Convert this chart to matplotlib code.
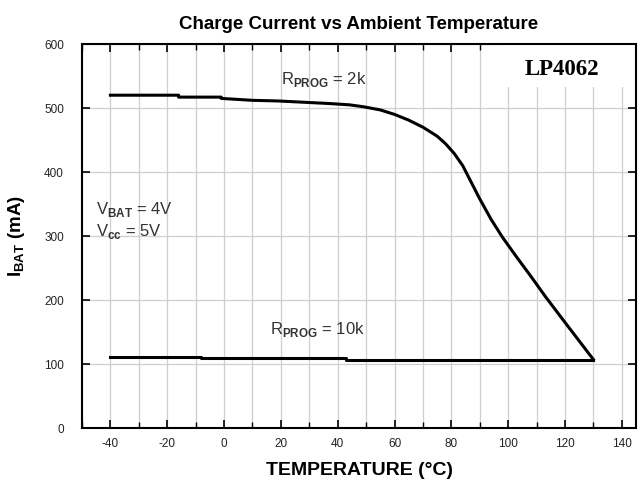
import matplotlib
matplotlib.use("Agg")
import matplotlib.pyplot as plt
from matplotlib.patches import Rectangle
from matplotlib.ticker import MultipleLocator

plt.rcParams['font.family'] = ['Liberation Sans', 'DejaVu Sans']
plt.rcParams['mathtext.fontset'] = 'custom'
plt.rcParams['mathtext.rm'] = 'Liberation Sans'
plt.rcParams['mathtext.bf'] = 'Liberation Sans:bold'
plt.rcParams['axes.unicode_minus'] = False

# Data
temp_2k = [-40, -16, -16, -1, -1, 10, 19, 28, 37, 44, 49, 55, 60, 65, 70, 75, 78, 81,
           84, 87, 90, 94, 98, 103, 108, 113, 120, 130]
ibat_2k = [520, 520, 517, 517, 515, 512, 511, 509, 507, 505, 502, 497, 490, 481, 470,
           456, 444, 429, 410, 384, 358, 326, 298, 267, 237, 206, 165, 107]
temp_10k = [-40, -8, -8, 43, 43, 130]
ibat_10k = [111, 111, 110, 110, 107, 107]
x_ticks = [-40, -20, 0, 20, 40, 60, 80, 100, 120, 140]
y_ticks = [0, 100, 200, 300, 400, 500, 600]

fig = plt.figure(figsize=(6.43, 4.90), dpi=100)
ax = fig.add_axes([82/643, 1-428/490, (636-82)/643, (428-44)/490])

ax.set_xlim(-50, 145)
ax.set_ylim(0, 600)
ax.set_xticks(x_ticks)
ax.set_yticks(y_ticks)
ax.xaxis.set_minor_locator(MultipleLocator(10))
ax.grid(True, which='both', axis='x', color='#cfcfcf', lw=0.9, zorder=0)
ax.grid(True, which='major', axis='y', color='#cfcfcf', lw=0.9, zorder=0)
ax.set_axisbelow(True)

ax.tick_params(which='major', direction='in', length=6, width=1.2, top=True, right=True,
               labelsize=8.5, labelcolor='#222222')
ax.tick_params(axis='x', which='major', pad=7)
ax.tick_params(axis='y', which='major', pad=13)
ax.tick_params(which='minor', direction='in', length=4, width=1.0, top=True, right=True)
for s in ax.spines.values():
    s.set_linewidth(1.5)

# white box behind model label
ax.add_patch(Rectangle((98, 533), 47, 67, facecolor='white', edgecolor='none', zorder=1))
ax.text(119, 560, 'LP4062', family='Liberation Serif', fontweight='bold', fontsize=16.5,
        ha='center', va='center', zorder=3)

ax.plot(temp_2k, ibat_2k, color='black', lw=2.2, zorder=2)
ax.plot(temp_10k, ibat_10k, color='black', lw=2.2, zorder=2)

tc = '#333333'
ax.text(20, 545, r'R$_{\mathbf{PROG}}$ = 2k', fontsize=12, color=tc, ha='left', va='center')
ax.text(16, 154, r'R$_{\mathbf{PROG}}$ = 10k', fontsize=12, color=tc, ha='left', va='center')
ax.text(-45, 342, r'V$_{\mathbf{BAT}}$ = 4V', fontsize=12, color=tc, ha='left', va='center')
ax.text(-45, 307, r'V$_{\mathbf{cc}}$ = 5V', fontsize=12, color=tc, ha='left', va='center')

ax.set_title('Charge Current vs Ambient Temperature', fontsize=13.5, fontweight='bold', pad=11)
ax.set_xlabel('TEMPERATURE (°C)', fontsize=14, fontweight='bold', labelpad=9)
ax.set_ylabel(r'I$_{\mathbf{BAT}}$ (mA)', fontsize=13.5, fontweight='bold', labelpad=12)

fig.savefig('out.png', dpi=100)
